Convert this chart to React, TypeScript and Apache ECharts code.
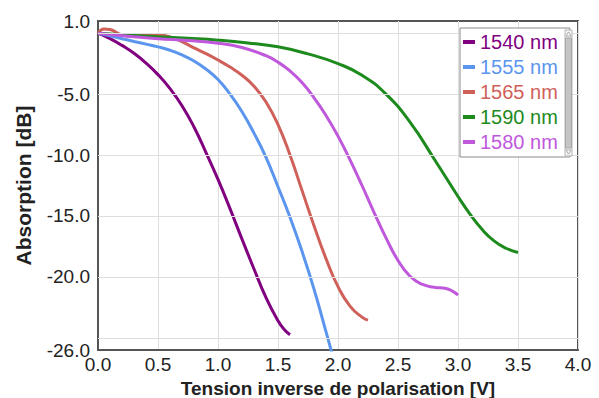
import React, { useEffect, useRef } from "react";
import * as echarts from "echarts";

// ---- data (x = reverse bias [V], y = absorption [dB]) ----
const S1540: [number, number][] = [
  [0, 0], [0.1, -0.45], [0.2, -1.0], [0.3, -1.65], [0.4, -2.45], [0.5, -3.4],
  [0.6, -4.55], [0.7, -5.95], [0.8, -7.7], [0.9, -9.8], [1.0, -12.0],
  [1.1, -14.4], [1.2, -16.9], [1.3, -19.35], [1.4, -21.7], [1.5, -23.6],
  [1.55, -24.3], [1.6, -24.75],
];
const S1555: [number, number][] = [
  [0, 0], [0.1, -0.22], [0.2, -0.45], [0.3, -0.68], [0.4, -0.9], [0.5, -1.12],
  [0.6, -1.4], [0.7, -1.78], [0.8, -2.28], [0.9, -2.95], [1.0, -3.8],
  [1.1, -5.0], [1.2, -6.45], [1.3, -8.2], [1.4, -10.2], [1.5, -12.6],
  [1.6, -15.1], [1.7, -17.9], [1.8, -21.0], [1.9, -24.5], [1.97, -27.0],
];
const S1565: [number, number][] = [
  [0, 0], [0.05, 0.35], [0.1, 0.3], [0.2, -0.15], [0.3, -0.25], [0.4, -0.15],
  [0.5, -0.15], [0.6, -0.3], [0.7, -0.7], [0.8, -1.2], [0.9, -1.68],
  [1.0, -2.2], [1.1, -2.78], [1.2, -3.45], [1.3, -4.35], [1.4, -5.65],
  [1.5, -7.5], [1.6, -10.0], [1.7, -12.9], [1.8, -15.8], [1.9, -18.5],
  [2.0, -20.8], [2.1, -22.4], [2.2, -23.3], [2.25, -23.55],
];
const S1590: [number, number][] = [
  [0, 0], [0.25, -0.15], [0.5, -0.3], [0.75, -0.42], [1.0, -0.57],
  [1.25, -0.8], [1.5, -1.12], [1.75, -1.7], [2.0, -2.5], [2.2, -3.45],
  [2.4, -5.0], [2.6, -7.3], [2.8, -10.3], [3.0, -13.4], [3.1, -14.85],
  [3.2, -16.1], [3.3, -17.05], [3.4, -17.65], [3.5, -18.0],
];
const S1580: [number, number][] = [
  [0, 0], [0.25, -0.25], [0.5, -0.45], [0.75, -0.6], [1.0, -0.82],
  [1.2, -1.18], [1.4, -1.85], [1.5, -2.38], [1.6, -3.1], [1.7, -4.05],
  [1.8, -5.3], [1.9, -6.75], [2.0, -8.45], [2.1, -10.4], [2.2, -12.5],
  [2.3, -14.7], [2.4, -16.8], [2.5, -18.65], [2.6, -19.95], [2.7, -20.6],
  [2.8, -20.85], [2.9, -20.95], [2.95, -21.15], [3.0, -21.5],
];

const SERIES_NAMES = ["1540 nm", "1555 nm", "1565 nm", "1590 nm", "1580 nm"];
const SERIES_DATA = [S1540, S1555, S1565, S1590, S1580];
const SERIES_COLORS = ["#800080", "#5b95ee", "#d0605a", "#1d8a1d", "#c058dc"];

const Y_LABELS = [1, -5, -10, -15, -20, -26];
const Y_GRID = [0, -5, -10, -15, -20, -25];

const FONT = "'Liberation Sans', Arial, sans-serif";

export default function App() {
  const ref = useRef<HTMLDivElement>(null);
  useEffect(() => {
    if (!ref.current) return;
    const chart = echarts.init(ref.current, undefined, { renderer: "svg" });
    const option: any = {
      animation: false,
      backgroundColor: "#ffffff",
      textStyle: { fontFamily: FONT },
      grid: {
        left: 98,
        right: 21,
        top: 21,
        bottom: 48,
        outerBoundsMode: "none",
        containLabel: false,
        show: true,
        borderColor: "#555",
        borderWidth: 2,
        backgroundColor: "transparent",
      },
      xAxis: {
        type: "value",
        min: 0,
        max: 4,
        interval: 0.5,
        axisLine: { show: true, onZero: false, lineStyle: { color: "#555", width: 2 } },
        axisTick: { show: false },
        axisLabel: {
          color: "#222",
          fontSize: 19,
          fontFamily: FONT,
          margin: 5,
          formatter: (v: number) => v.toFixed(1),
        },
        splitLine: { show: true, lineStyle: { color: "#dedede", width: 1 } },
        name: "Tension inverse de polarisation [V]",
        nameLocation: "middle",
        nameGap: 27,
        nameTextStyle: { color: "#222", fontSize: 19, fontWeight: "bold", fontFamily: FONT },
      },
      yAxis: {
        type: "value",
        min: -26,
        max: 1,
        interval: 1,
        axisLine: { show: true, onZero: false, lineStyle: { color: "#555", width: 2 } },
        axisTick: { show: false },
        axisLabel: {
          color: "#222",
          fontSize: 19,
          fontFamily: FONT,
          margin: 8,
          formatter: (v: number) =>
            Y_LABELS.indexOf(Math.round(v)) >= 0 ? v.toFixed(1) : "",
        },
        splitLine: { show: false },
        name: "Absorption [dB]",
        nameLocation: "middle",
        nameGap: 64,
        nameTextStyle: { color: "#222", fontSize: 21, fontWeight: "bold", fontFamily: FONT },
      },
      legend: {
        orient: "vertical",
        left: 460,
        top: 28,
        backgroundColor: "#ffffff",
        borderColor: "#8a8a8a",
        borderWidth: 1,
        padding: [4, 12, 5, 3],
        itemWidth: 12,
        itemHeight: 4,
        itemGap: 5,
        icon: "rect",
        selectedMode: false,
        textStyle: { fontSize: 20, lineHeight: 20, fontFamily: FONT },
        data: SERIES_NAMES.map((n, i) => ({
          name: n,
          textStyle: { color: SERIES_COLORS[i] },
        })),
        z: 10,
      },
      graphic: [
        {
          type: "rect",
          z: 100,
          shape: { x: 565, y: 30, width: 7, height: 126 },
          style: { fill: "#f2f2f2", stroke: "#b5b5b5", lineWidth: 1 },
        },
        {
          type: "rect",
          z: 101,
          shape: { x: 565.5, y: 38, width: 6, height: 110 },
          style: { fill: "#c4c4c4", stroke: "#a8a8a8", lineWidth: 1 },
        },
        {
          type: "polygon",
          z: 101,
          shape: { points: [[566, 36], [571, 36], [568.5, 32]] },
          style: { fill: "#fff", stroke: "#999", lineWidth: 0.8 },
        },
        {
          type: "polygon",
          z: 101,
          shape: { points: [[566, 150], [571, 150], [568.5, 154]] },
          style: { fill: "#fff", stroke: "#999", lineWidth: 0.8 },
        },
      ],
      series: [
        {
          type: "line",
          name: "grid",
          data: [],
          z: 1,
          silent: true,
          markLine: {
            silent: true,
            symbol: "none",
            label: { show: false },
            lineStyle: { color: "#dedede", type: "solid", width: 1 },
            data: Y_GRID.map((v) => ({ yAxis: v })),
          },
        },
        ...SERIES_NAMES.map((n, i) => ({
          type: "line",
          name: n,
          data: SERIES_DATA[i],
          smooth: 0.5,
          showSymbol: false,
          symbol: "circle",
          clip: true,
          z: 3,
          itemStyle: { color: SERIES_COLORS[i] },
          lineStyle: { color: SERIES_COLORS[i], width: 3 },
        })),
      ],
    };
    chart.setOption(option);
    return () => chart.dispose();
  }, []);
  return <div ref={ref} style={{ width: 599, height: 398, position: "absolute", left: 0, top: 0 }} />;
}
